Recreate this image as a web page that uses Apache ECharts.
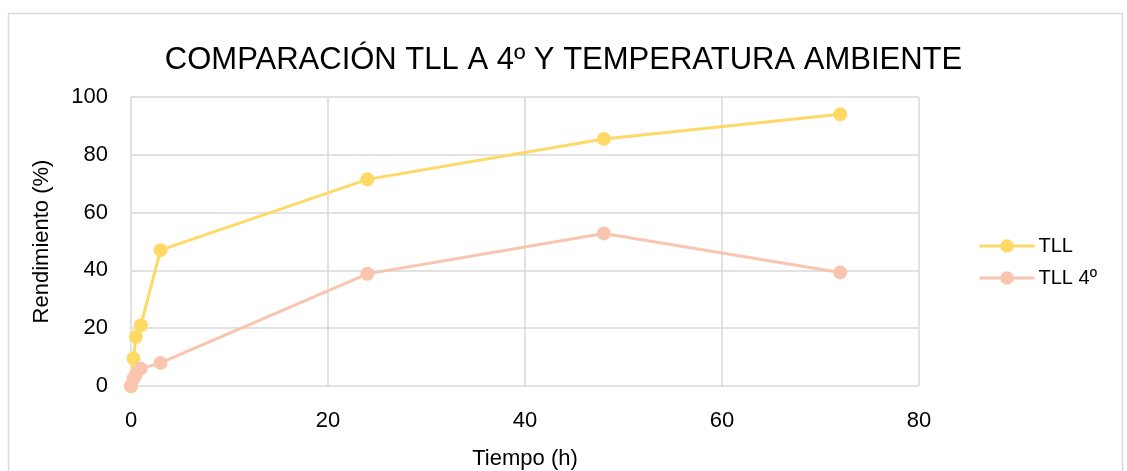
<!DOCTYPE html>
<html>
<head>
<meta charset="utf-8">
<script src="https://cdn.jsdelivr.net/npm/echarts@6/dist/echarts.min.js"></script>
<style>
  html, body { margin: 0; padding: 0; background: #fff; }
  #chart { width: 1127px; height: 471px; }
</style>
</head>
<body>
<div id="chart"></div>
<script>
// Tiempo (h) de cada muestra
const tiempos = [0, 0.25, 0.5, 1, 3, 24, 48, 72];
// Rendimiento (%) a temperatura ambiente
const rendimientoTLL = [0, 9.5, 17, 21, 47, 71.5, 85.5, 94];
// Rendimiento (%) a 4º
const rendimientoTLL4 = [0, 2.5, 4, 6, 8, 38.8, 52.8, 39.3];
const nombresSeries = ['TLL', 'TLL 4º'];
const coloresSeries = ['#FFD966', '#F9C5AF'];

const fuente = '"Liberation Sans", Arial, sans-serif';

const pares = (xs, ys) => xs.map((x, i) => [x, ys[i]]);

const chart = echarts.init(document.getElementById('chart'));
chart.setOption({
  animation: false,
  backgroundColor: '#fff',
  title: {
    text: 'COMPARACIÓN TLL A 4º Y TEMPERATURA AMBIENTE',
    left: 'center',
    top: 40,
    textStyle: { fontFamily: fuente, fontSize: 31, fontWeight: 'normal', color: '#000' }
  },
  graphic: [{
    type: 'rect',
    left: 6, top: 11,
    shape: { width: 1114, height: 470 },
    style: { fill: 'none', stroke: '#D9D9D9', lineWidth: 1.5 },
    silent: true
  }],
  legend: {
    orient: 'vertical',
    left: 973,
    top: 231,
    itemWidth: 55,
    itemHeight: 17,
    itemGap: 12,
    lineStyle: { width: 3 },
    textStyle: { fontFamily: fuente, fontSize: 20, color: '#000', padding: [0, 0, 0, -1] },
    data: nombresSeries
  },
  grid: { left: 131, right: 208, top: 97, bottom: 85, outerBoundsMode: 'none' },
  xAxis: {
    type: 'value',
    min: 0, max: 80, interval: 20,
    name: 'Tiempo (h)',
    nameLocation: 'middle',
    nameGap: 62,
    nameTextStyle: { fontFamily: fuente, fontSize: 22, color: '#000' },
    axisLine: { show: false },
    axisTick: { show: false },
    axisLabel: { fontFamily: fuente, fontSize: 22, color: '#000', margin: 24 },
    splitLine: { show: true, lineStyle: { color: '#D9D9D9', width: 1.5 } }
  },
  yAxis: {
    type: 'value',
    min: 0, max: 100, interval: 20,
    name: 'Rendimiento (%)',
    nameLocation: 'middle',
    nameGap: 78,
    nameRotate: 90,
    nameTextStyle: { fontFamily: fuente, fontSize: 22, color: '#000' },
    axisLine: { show: false },
    axisTick: { show: false },
    axisLabel: { fontFamily: fuente, fontSize: 22, color: '#000', margin: 23 },
    splitLine: { show: true, lineStyle: { color: '#D9D9D9', width: 1.5 } }
  },
  series: [
    {
      name: nombresSeries[0],
      type: 'line',
      data: pares(tiempos, rendimientoTLL),
      symbol: 'circle',
      symbolSize: 14,
      lineStyle: { width: 3, color: coloresSeries[0] },
      itemStyle: { color: coloresSeries[0] },
      z: 2
    },
    {
      name: nombresSeries[1],
      type: 'line',
      data: pares(tiempos, rendimientoTLL4),
      symbol: 'circle',
      symbolSize: 14,
      lineStyle: { width: 3, color: coloresSeries[1] },
      itemStyle: { color: coloresSeries[1] },
      z: 3
    }
  ]
});
</script>
</body>
</html>
